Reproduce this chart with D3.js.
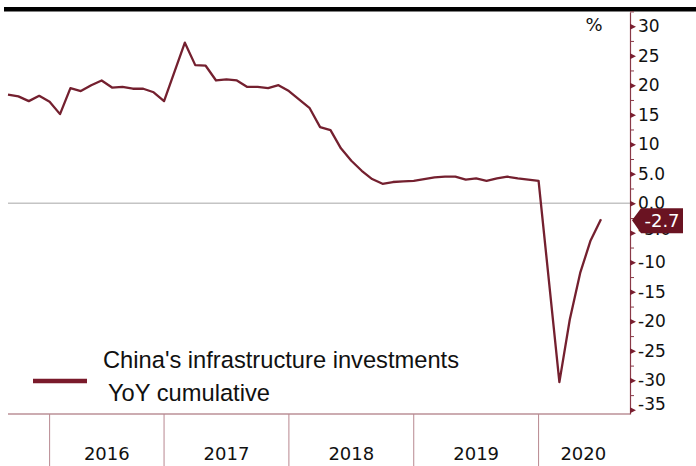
<!DOCTYPE html>
<html>
<head>
<meta charset="utf-8">
<script src="https://cdn.jsdelivr.net/npm/d3@7"></script>
<style>
  body { margin: 0; background: #fff; }
  svg { display: block; }
</style>
</head>
<body>
<svg></svg>
<script>
// monthly slots on the x axis (Jan-Feb reported together, Jan slots have no value)
var months = ["2015-08","2015-09","2015-10","2015-11","2015-12",
  "2016-02","2016-03","2016-04","2016-05","2016-06","2016-07","2016-08","2016-09","2016-10","2016-11","2016-12",
  "2017-01","2017-02","2017-03","2017-04","2017-05","2017-06","2017-07","2017-08","2017-09","2017-10","2017-11","2017-12",
  "2018-01","2018-02","2018-03","2018-04","2018-05","2018-06","2018-07","2018-08","2018-09","2018-10","2018-11","2018-12",
  "2019-01","2019-02","2019-03","2019-04","2019-05","2019-06","2019-07","2019-08","2019-09","2019-10","2019-11","2019-12",
  "2020-01","2020-02","2020-03","2020-04","2020-05","2020-06"];

var infraYoY = [18.4, 18.1, 17.3, 18.2, 17.2,
  15.1, 19.5, 19.0, 20.0, 20.8, 19.6, 19.7, 19.4, 19.4, 18.8, 17.3,
  null, 27.2, 23.4, 23.3, 20.8, 21.0, 20.8, 19.7, 19.7, 19.5, 20.0, 19.0,
  null, 16.1, 12.9, 12.4, 9.3, 7.2, 5.5, 4.1, 3.3, 3.6, 3.7, 3.8,
  null, 4.4, 4.5, 4.5, 4.0, 4.2, 3.8, 4.2, 4.5, 4.2, 4.0, 3.8,
  null, -30.3, -19.7, -11.8, -6.3, -2.7];

var years = ["2016", "2017", "2018", "2019", "2020"];
var yTicks = [-35, -30, -25, -20, -15, -10, -5, 0, 5, 10, 15, 20, 25, 30];
var yTickLabels = ["-35", "-30", "-25", "-20", "-15", "-10", "-5.0", "0.0", "5.0", "10", "15", "20", "25", "30"];
var yMinor = [-32.5, -27.5, -22.5, -17.5, -12.5, -7.5, -2.5, 2.5, 7.5, 12.5, 17.5, 22.5, 27.5, 32.5];
var lastValue = "-2.7";

var w = 696, h = 466;
var axisX = 630, plotBottom = 414, plotTop = 12;
var maroon = "#74202f";

var svg = d3.select("svg").attr("width", w).attr("height", h);

var x = d3.scalePoint().domain(months).range([8, 601]);
var y = d3.scaleLinear().domain([-35.7, 32.4]).range([plotBottom, plotTop]);

// top black rule
svg.append("rect").attr("x", 4).attr("y", 7).attr("width", w - 4).attr("height", 4.5).attr("fill", "#000");

// zero line
svg.append("line")
  .attr("x1", 8).attr("x2", axisX)
  .attr("y1", y(0)).attr("y2", y(0))
  .attr("stroke", "#c4c4c4").attr("stroke-width", 1.3);

// bottom frame
svg.append("line")
  .attr("x1", 8).attr("x2", axisX)
  .attr("y1", plotBottom).attr("y2", plotBottom)
  .attr("stroke", "#9a5a64").attr("stroke-width", 1.2);

// year bands
var bandEdges = years.map(function(yr) { return x((+yr - 1) + "-12"); });
bandEdges.push(axisX - 2);

svg.selectAll("line.sep")
  .data(bandEdges.slice(0, years.length))
  .enter().append("line")
  .attr("class", "sep")
  .attr("x1", function(d) { return d; }).attr("x2", function(d) { return d; })
  .attr("y1", plotBottom).attr("y2", h)
  .attr("stroke", "#b88890").attr("stroke-width", 1);

svg.selectAll("text.year")
  .data(years)
  .enter().append("text")
  .attr("class", "year")
  .attr("x", function(d, i) { return (bandEdges[i] + bandEdges[i + 1]) / 2; })
  .attr("y", 460)
  .attr("text-anchor", "middle")
  .style("font-family", "DejaVu Sans, sans-serif")
  .style("font-size", "18px")
  .attr("fill", "#111")
  .text(function(d) { return d; });

// series line
var pts = months.map(function(m, i) { return { m: m, v: infraYoY[i] }; })
  .filter(function(d) { return d.v !== null; });

var line = d3.line()
  .x(function(d) { return x(d.m); })
  .y(function(d) { return y(d.v); });

svg.append("path")
  .datum(pts)
  .attr("d", line)
  .attr("fill", "none")
  .attr("stroke", maroon)
  .attr("stroke-width", 2.3)
  .attr("stroke-linejoin", "round");

// right axis
var gAxis = svg.append("g").attr("transform", "translate(" + axisX + ",0)");

gAxis.call(d3.axisRight(y)
  .tickValues(yMinor)
  .tickSize(4)
  .tickSizeOuter(0)
  .tickFormat(""));

var gMajor = gAxis.append("g").call(d3.axisRight(y)
  .tickValues(yTicks)
  .tickSize(0)
  .tickPadding(8)
  .tickFormat(function(d, i) { return yTickLabels[i]; }));
gMajor.select(".domain").remove();

gAxis.selectAll("path.domain").attr("stroke", "#8a3a48").attr("stroke-width", 1.2);
gAxis.selectAll("line").attr("stroke", "#8a3a48");

gMajor.selectAll(".tick").append("path")
  .attr("d", "M0,-3L6,0L0,3Z")
  .attr("fill", "#7a1f30");

gMajor.selectAll(".tick text")
  .style("font-family", "DejaVu Sans, sans-serif")
  .style("font-size", "17px")
  .attr("fill", "#111")
  .attr("dy", function(d) { return d === -35 ? "-0.05em" : d === -5 ? "0.1em" : "0.32em"; });

// "%" unit
svg.append("text")
  .attr("x", 594).attr("y", 31)
  .attr("text-anchor", "middle")
  .style("font-family", "DejaVu Sans, sans-serif")
  .style("font-size", "18px")
  .attr("fill", "#111")
  .text("%");

// last value tag (drawn over the nearby tick labels, as in the source)
var tagY = y(infraYoY[infraYoY.length - 1]) + 1;
var tag = svg.append("g").attr("transform", "translate(" + (axisX + 2) + "," + tagY + ")");
tag.append("path")
  .attr("d", "M0,0L9,-12L51,-12L51,13L9,13Z")
  .attr("fill", "#6a1322");
tag.append("text")
  .attr("x", 30).attr("y", 6.5)
  .attr("text-anchor", "middle")
  .style("font-family", "DejaVu Sans, sans-serif")
  .style("font-size", "18px")
  .attr("fill", "#fff")
  .text(lastValue);

// legend
svg.append("line")
  .attr("x1", 33).attr("x2", 87)
  .attr("y1", 381).attr("y2", 381)
  .attr("stroke", "#7a1a2b").attr("stroke-width", 4.5);

svg.append("text")
  .attr("x", 103).attr("y", 368)
  .style("font-family", "Liberation Sans, Arial, sans-serif")
  .style("font-size", "23.7px")
  .attr("fill", "#111")
  .text("China's infrastructure investments");

svg.append("text")
  .attr("x", 108).attr("y", 401)
  .style("font-family", "Liberation Sans, Arial, sans-serif")
  .style("font-size", "23.7px")
  .attr("fill", "#111")
  .text("YoY cumulative");
</script>
</body>
</html>
